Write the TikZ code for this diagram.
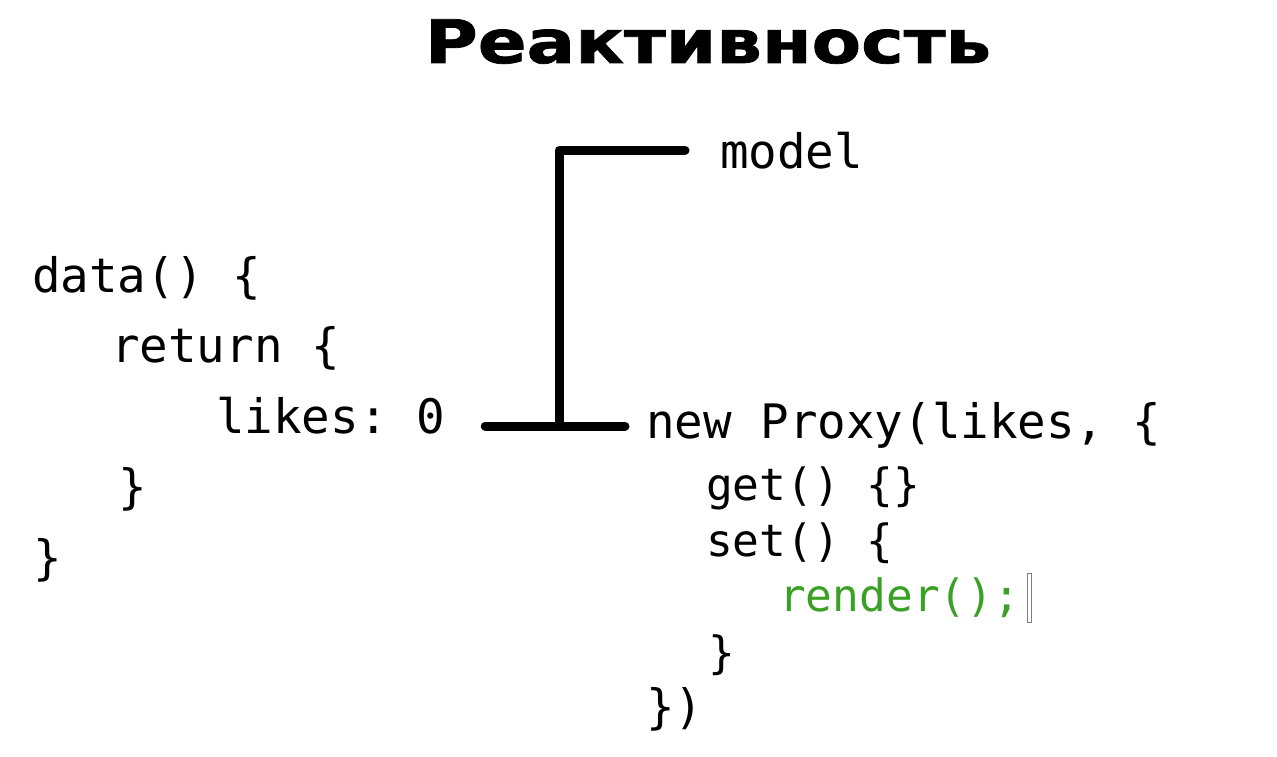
\documentclass[tikz,border=0pt]{standalone}
\usepackage{fontspec}
\setmonofont{DejaVu Sans Mono}
\newfontface\titlefont{DejaVu Sans Bold}[FakeBold=1.2]
\usetikzlibrary{calc}
\definecolor{codegreen}{RGB}{58,160,38}
\tikzset{
  code/.style={inner sep=0pt, anchor=base west, font=\ttfamily\fontsize{47.5}{57}\selectfont},
  subcode/.style={code, font=\ttfamily\fontsize{44.5}{54}\selectfont},
  link/.style={line width=9pt, line cap=round, line join=round}
}
\begin{document}
\begin{tikzpicture}[x=1pt, y=-1pt]
    \useasboundingbox (0,0) rectangle (1277,757);
    \node[anchor=base, inner sep=0pt, font=\titlefont\fontsize{60}{70}\selectfont] (title) at (708,63) {\scalebox{1.2}[1]{Реактивность}};
    \node[code] (data) at (32,292) {data() \{};
    \node[code] (ret) at (111,362) {return \{};
    \node[code] (likes) at (216,433) {likes: 0};
    \node[code] (inner) at (118,503) {\}};
    \node[code] (outer) at (33,574) {\}};
    \node[code] (model) at (720,168) {model};
    \node[code] (proxy) at (646,438) {new Proxy(likes, \{};
    \node[subcode] (get) at (706,500) {get() \{\}};
    \node[subcode] (set) at (706,556) {set() \{};
    \node[subcode, text=codegreen] (render) at (779,611) {render();};
    \node[subcode] (setend) at (708,668) {\}};
    \node[code] (end) at (646,723) {\})};
    \coordinate (j) at (559,426);
    \draw[link] ([xshift=40pt]likes.east |- j) -- ([xshift=-21pt]proxy.west |- j);
    \draw[link] (j) |- ([xshift=-35pt]model.west);
    \draw[gray, line width=1pt] (1027,573) rectangle (1031,622);
\end{tikzpicture}
\end{document}
